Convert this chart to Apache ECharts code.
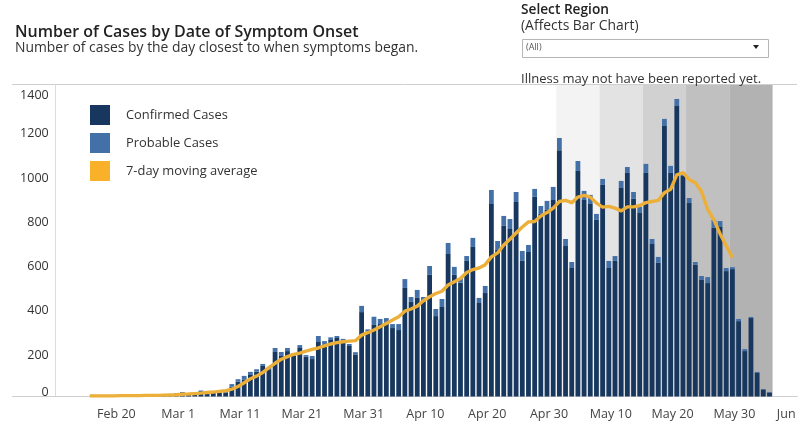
<!DOCTYPE html>
<html><head><meta charset="utf-8">
<style>html,body{margin:0;padding:0;background:#fff}#c{width:805px;height:432px}</style>
<script src="https://cdn.jsdelivr.net/npm/echarts@6/dist/echarts.min.js"></script>
</head><body><div id="c"></div>
<script>
const monthSpans = [["Feb",11,29],["Mar",1,31],["Apr",1,30],["May",1,31],["Jun",1,9]];
const categories = [];
monthSpans.forEach(([m,a,b])=>{for(let d=a;d<=b;d++)categories.push(m+" "+d);});
const tickDates = ["Feb 20","Mar 1","Mar 11","Mar 21","Mar 31","Apr 10","Apr 20","Apr 30","May 10","May 20","May 30","Jun 9"];
const yTicks = [0,200,400,600,800,1000,1200,1400];

// Reading order: Feb 11 .. Jun 5
const totalCases = [
 0,0,0,0,0,0,0,0,0,1,1,1,2,2,3,3,4,5,8,
 15,20,14,16,27,18,20,20,21,
 56,78,93,111,123,147,129,219,201,219,195,232,187,183,
 273,250,267,273,260,237,200,409,303,360,350,354,327,327,530,449,481,449,
 589,395,440,693,585,534,634,716,445,499,932,702,815,801,923,657,684,937,860,883,
 946,1167,711,607,1063,928,910,824,982,612,634,973,1036,923,856,1050,711,630,1253,1041,
 1343,1010,896,607,544,539,797,792,580,584,350,214,359,111,34,20
];
const confirmedCases = [
 0,0,0,0,0,0,0,0,0,1,1,1,2,2,2,3,3,4,6,
 11,15,11,12,20,14,16,16,16,
 44,67,75,97,112,138,123,201,183,205,185,219,180,169,
 246,232,255,264,252,228,190,381,293,323,327,333,309,300,490,427,445,430,
 549,363,404,643,549,514,612,675,422,467,869,661,770,756,878,612,652,901,824,842,
 887,1112,679,580,1018,887,869,797,955,580,612,941,1009,892,828,1009,688,603,1221,1009,
 1311,995,873,594,526,512,761,765,566,575,340,205,354,106,32,18
];
const probableCases = totalCases.map((t,i)=>t-confirmedCases[i]);
// Starts Feb 16, ends May 30
const movingAverage = [
 null,null,null,null,null,
 3,3,3,3,3,4,4,4,4,5,5,5,6,7,8,10,11,13,15,18,20,23,
 26,33,45,62,80,92,108,130,150,168,180,190,196,205,213,219,228,237,243,247,250,252,
 277,288,300,315,330,345,360,385,395,408,432,450,465,475,503,518,533,560,573,580,595,
 630,648,684,710,738,765,788,790,815,830,850,880,885,875,900,908,900,873,855,858,850,
 838,856,856,862,875,880,885,920,935,1000,1010,980,965,925,845,797,735,680,627
];
const bandEdges = [81,88,95,102,109,116];
const bandColors = ["#f3f3f3","#e3e3e3","#d1d1d1","#c0c0c0","#b2b2b2"];

const font = '"Open Sans",sans-serif';
const chart = echarts.init(document.getElementById('c'),null,{renderer:'canvas'});
const txt = (text,left,top,size,weight,color)=>({text,left,top,padding:0,textStyle:{fontFamily:font,fontSize:size,fontWeight:weight,color}});
chart.setOption({
 animation:false,
 backgroundColor:'#fff',
 title:[
  txt("Number of Cases by Date of Symptom Onset",15,24,16,600,'#222'),
  txt("Number of cases by the day closest to when symptoms began.",15,41,13.9,400,'#333'),
  txt("Select Region",521,3,13.7,600,'#222'),
  txt("(Affects Bar Chart)",521,19,13.9,400,'#333'),
  txt("Illness may not have been reported yet.",521,73,13.05,400,'#333')
 ],
 legend:{
  orient:'vertical',left:90,top:105,padding:0,itemWidth:20,itemHeight:20,itemGap:8,icon:'rect',
  selectedMode:false,
  textStyle:{fontFamily:font,fontSize:12.9,color:'#333',padding:[2,0,0,11]},
  data:["Confirmed Cases","Probable Cases","7-day moving average"]
 },
 grid:{left:55.7,right:7.7,top:85,bottom:35.5,containLabel:false},
 xAxis:[
  {type:'category',data:categories,boundaryGap:true,
   axisLine:{lineStyle:{color:'#cfcfcf',width:1}},axisTick:{show:false},splitLine:{show:false},
   axisLabel:{interval:(i,v)=>tickDates.includes(v),margin:11,hideOverlap:false,
    fontFamily:font,fontSize:12.5,color:'#444',padding:[0,0,0,4],
    formatter:v=>v==="Jun 9"?'{j|Jun}':v,
    rich:{j:{fontFamily:font,fontSize:12.5,color:'#444',padding:[0,20,0,0]}}}},
  {type:'value',min:0,max:120,show:false}
 ],
 yAxis:{type:'value',min:0,max:1406,
  axisLine:{show:true,lineStyle:{color:'#dcdcdc'}},axisTick:{show:false,customValues:yTicks},splitLine:{show:false},
  axisLabel:{customValues:yTicks,margin:7,fontFamily:font,fontSize:12.5,color:'#333',
   formatter:v=>v===0?'{z|0}':v===1400?'{t|1400}':'{n|'+v+'}',
   rich:{
    z:{fontFamily:font,fontSize:12.5,color:'#333',padding:[0,0,8,0]},
    t:{fontFamily:font,fontSize:12.5,color:'#333',padding:[18,0,0,0]},
    n:{fontFamily:font,fontSize:12.5,color:'#333',padding:[6,0,0,0]}
   }}},
 series:[
  {name:'bands',type:'line',xAxisIndex:1,data:[],z:0,silent:true,
   markArea:{silent:true,data:bandColors.map((c,i)=>[{xAxis:bandEdges[i],itemStyle:{color:c}},{xAxis:bandEdges[i+1]}])}},
  {name:"Confirmed Cases",type:'bar',stack:'c',data:confirmedCases,barWidth:4.8,itemStyle:{color:'#17375e'},z:3},
  {name:"Probable Cases",type:'bar',stack:'c',data:probableCases,barWidth:4.8,itemStyle:{color:'#4470a8'},z:3},
  {name:"7-day moving average",type:'line',data:movingAverage,showSymbol:false,symbol:'none',z:5,
   lineStyle:{color:'#ecb03a',width:3.4,cap:'butt',join:'round'},itemStyle:{color:'#f8b129'}}
 ],
 graphic:[
  {type:'line',shape:{x1:12,y1:84.5,x2:797,y2:84.5},style:{stroke:'#cfcfcf',lineWidth:1},silent:true},
  {type:'line',shape:{x1:12,y1:396.5,x2:56,y2:396.5},style:{stroke:'#cfcfcf',lineWidth:1},silent:true},
  {type:'rect',shape:{x:522.5,y:39.5,width:246,height:18},style:{fill:'#fff',stroke:'#b5b5b5',lineWidth:1},silent:true},
  {type:'text',x:526,y:43,style:{text:"(All)",font:'9px '+font,fill:'#555'},silent:true},
  {type:'polygon',shape:{points:[[753,45],[759,45],[756,49]]},style:{fill:'#222'},silent:true}
 ]
});
</script></body></html>
